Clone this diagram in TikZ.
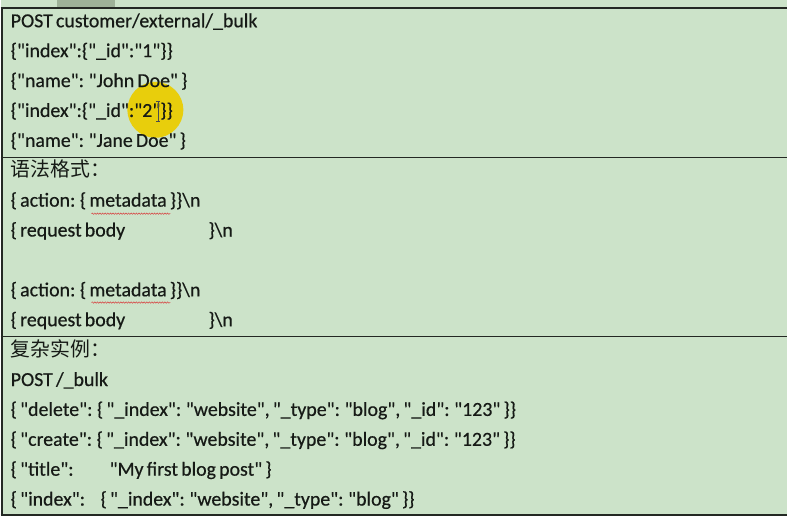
\documentclass[tikz,border=0pt]{standalone}
\usepackage{fontspec}
\setmainfont{Carlito}[Ligatures=TeXOff,FakeBold=0.5,WordSpace=0.7]
\newfontfamily\cjk{Noto Sans CJK SC}
\usepackage{tikz}
\usetikzlibrary{positioning,decorations.pathmorphing}

\definecolor{sheetgreen}{RGB}{204,227,201}
\definecolor{inkgray}{RGB}{22,26,22}
\definecolor{rulegray}{RGB}{35,40,35}
\definecolor{tabgray}{RGB}{158,178,152}
\definecolor{markyellow}{RGB}{232,206,12}
\definecolor{squigred}{RGB}{215,60,60}

\begin{document}
\begin{tikzpicture}[x=1pt,y=-1pt,node distance=29.94pt,on grid,
    codeline/.style={anchor=west,inner sep=0pt,text height=13pt,text depth=4pt,
      text=inkgray,font=\fontsize{19.9}{22}\selectfont},
    rowrule/.style={draw=rulegray,line width=1.2pt},
    spellmark/.style={draw=squigred,line width=0.5pt,decorate,
      decoration={snake,amplitude=0.7pt,segment length=2.6pt}}]
   \fill[sheetgreen] (0,0) rectangle (788,517);
   \fill[tabgray] (56,0) rectangle (115,7);
   \fill[markyellow] (155,110) circle[radius=28pt];

   % first block
   \node[codeline] (a1) at (10,22.8) {POST customer/external/\_bulk};
   \node (a2) [below=of a1.west,codeline] {\{"index":\{"\_id":"1"\}\}};
   \node (a3) [below=of a2.west,codeline] {\{"name": "John Doe" \}};
   \node (a4) [below=of a3.west,codeline] {\{"index":\{"\_id":"2"\}\}};
   \node (a5) [below=of a4.west,codeline] {\{"name": "Jane Doe" \}};

   % syntax block
   \node (b1) [below=of a5.west,codeline] {\cjk 语法格式：};
   \node (b2) [below=of b1.west,codeline] {\{ action: \{ metadata \}\}\textbackslash n};
   \node (b3) [below=of b2.west,codeline] {\makebox[198pt][l]{\{ request body}\}\textbackslash n};
   \node (b4) [below=59.88pt of b3.west,codeline] {\{ action: \{ metadata \}\}\textbackslash n};
   \node (b5) [below=of b4.west,codeline] {\makebox[198pt][l]{\{ request body}\}\textbackslash n};

   % example block
   \node (c1) [below=of b5.west,codeline] {\cjk 复杂实例：};
   \node (c2) [below=of c1.west,codeline] {POST /\_bulk};
   \node (c3) [below=of c2.west,codeline] {\{ "delete": \{ "\_index": "website", "\_type": "blog", "\_id": "123" \}\}};
   \node (c4) [below=of c3.west,codeline] {\{ "create": \{ "\_index": "website", "\_type": "blog", "\_id": "123" \}\}};
   \node (c5) [below=of c4.west,codeline] {\makebox[99pt][l]{\{ "title":}"My first blog post" \}};
   \node (c6) [below=of c5.west,codeline] {\makebox[90pt][l]{\{ "index":}\{ "\_index": "website", "\_type": "blog" \}\}};

   \draw[spellmark] (91,214) -- (170,214);
   \draw[spellmark] (91,303) -- (170,303);
   \draw[gray!60!black,line width=0.6pt] (156,101) -- (160,101) (158,101) -- (158,121) (156,121) -- (160,121);

   \draw[rowrule] (0,8) -- (788,8);
   \draw[rowrule] (0,157.7) -- (788,157.7);
   \draw[rowrule] (0,337) -- (788,337);
   \draw[rowrule] (0,515.8) -- (788,515.8);
   \draw[rowrule] (1.5,8) -- (1.5,515.8);
\end{tikzpicture}
\end{document}
